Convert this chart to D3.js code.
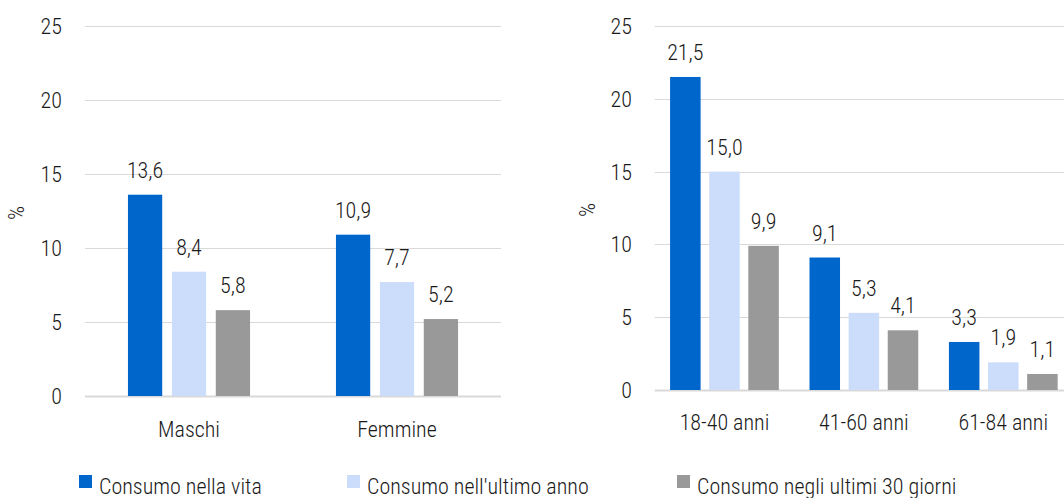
<!DOCTYPE html>
<html>
<head>
<meta charset="utf-8">
<script src="https://cdn.jsdelivr.net/npm/d3@7"></script>
<style>
  html, body { margin: 0; padding: 0; background: #fff; }
  svg { display: block; }
  text { font-family: "Roboto Condensed", "Liberation Sans Narrow", "Arial Narrow", sans-serif; font-weight: 300; fill: #1a1a1a; }
</style>
</head>
<body>
<svg id="chart" width="1064" height="498"></svg>
<script>
const series = ["Consumo nella vita", "Consumo nell'ultimo anno", "Consumo negli ultimi 30 giorni"];
const colors = ["#0066cc", "#ccddfb", "#999999"];

const sexCategories = ["Maschi", "Femmine"];
const sexVita = [13.6, 10.9];
const sexAnno = [8.4, 7.7];
const sex30 = [5.8, 5.2];

const ageCategories = ["18-40 anni", "41-60 anni", "61-84 anni"];
const ageVita = [21.5, 9.1, 3.3];
const ageAnno = [15.0, 5.3, 1.9];
const age30 = [9.9, 4.1, 1.1];

const yTicks = [0, 5, 10, 15, 20, 25];

const svg = d3.select("#chart");
const fmt = v => d3.format(".1f")(v).replace(".", ",");
const FS = 22;

function panel(cfg) {
  const { cats, vals, x0, x1, yBottom, yTop, groupFrac, tickX, titleX, gridRight, xLabelDy } = cfg;
  const y = d3.scaleLinear().domain([0, 25]).range([yBottom, yTop]);
  const xb = d3.scaleBand().domain(cats).range([x0, x1]).paddingInner(0).paddingOuter(0);
  const gw = xb.bandwidth() * groupFrac;
  const xs = d3.scaleBand().domain(series).range([-gw / 2, gw / 2]).paddingInner(0.22).paddingOuter(0);
  const g = svg.append("g");

  g.selectAll("line.grid").data(yTicks).join("line")
    .attr("x1", x0).attr("x2", gridRight)
    .attr("y1", d => Math.round(y(d)) + 0.5).attr("y2", d => Math.round(y(d)) + 0.5)
    .attr("stroke", "#d9d9d9").attr("stroke-width", d => d === 0 ? 2 : 1);

  g.selectAll("text.ytick").data(yTicks).join("text")
    .attr("x", tickX).attr("y", d => y(d) + 8)
    .attr("text-anchor", "end").attr("font-size", FS)
    .text(d => d);

  g.append("text")
    .attr("transform", `translate(${titleX},${(yTop + yBottom) / 2 + 2}) rotate(-90)`)
    .attr("text-anchor", "middle").attr("font-size", FS).text("%");

  const rows = [];
  cats.forEach((c, i) => series.forEach((s, j) => rows.push({ c, s, j, v: vals[j][i] })));
  g.selectAll("rect.bar").data(rows).join("rect")
    .attr("x", d => xb(d.c) + xb.bandwidth() / 2 + xs(d.s))
    .attr("y", d => y(d.v))
    .attr("width", xs.bandwidth())
    .attr("height", d => y(0) - y(d.v))
    .attr("fill", d => colors[d.j]);

  g.selectAll("text.val").data(rows).join("text")
    .attr("x", d => xb(d.c) + xb.bandwidth() / 2 + xs(d.s) + xs.bandwidth() / 2)
    .attr("y", d => y(d.v) - 17)
    .attr("text-anchor", "middle").attr("font-size", FS)
    .text(d => fmt(d.v));

  g.selectAll("text.xl").data(cats).join("text")
    .attr("x", d => xb(d) + xb.bandwidth() / 2)
    .attr("y", yBottom + xLabelDy)
    .attr("text-anchor", "middle").attr("font-size", FS)
    .text(d => d);
}

panel({ cats: sexCategories, vals: [sexVita, sexAnno, sex30], x0: 85, x1: 501, yBottom: 396, yTop: 26,
        groupFrac: 0.587, tickX: 62, titleX: 24, gridRight: 501, xLabelDy: 41 });
panel({ cats: ageCategories, vals: [ageVita, ageAnno, age30], x0: 654.75, x1: 1073, yBottom: 390, yTop: 26,
        groupFrac: 0.78, tickX: 632, titleX: 595, gridRight: 1064, xLabelDy: 40 });

const legendX = [79, 347, 677];
const lg = svg.append("g");
series.forEach((s, i) => {
  lg.append("rect").attr("x", legendX[i]).attr("y", 475).attr("width", 13).attr("height", 13).attr("fill", colors[i]);
  lg.append("text").attr("x", legendX[i] + 20).attr("y", 494).attr("font-size", FS).text(s);
});
</script>
</body>
</html>
